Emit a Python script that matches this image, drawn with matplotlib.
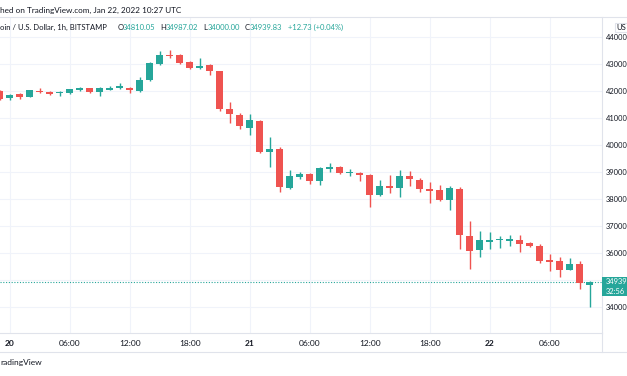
import matplotlib.pyplot as plt
from matplotlib.patches import Rectangle
from matplotlib.lines import Line2D

# hourly candles, Jan 19 23:00 -> Jan 22 10:00 (hour index from Jan 20 00:00)
hours = list(range(-1, 59))
opens = [42020, 41760, 41900, 41800, 42020, 41985, 41930, 41920, 42050, 42110,
         41990, 42060, 42110, 42133, 42022, 42418, 43011, 43356, 43344, 43074,
         42874, 42963, 42752, 41333, 41122, 40652, 40911, 39763, 39852, 38407,
         38837, 38937, 38689, 39119, 39207, 38963, 38985, 38900, 38159, 38493,
         38407, 38874, 38715, 38381, 38333, 37974, 38381, 36652, 36122, 36430,
         36478, 36456, 36493, 36370, 36281, 35752, 35715, 35381, 35604, 34810.05]
highs = [42030, 41890, 41920, 42050, 42110, 42010, 42000, 42080, 42170, 42120,
         42150, 42180, 42296, 42170, 42518, 43074, 43493, 43530, 43370, 43122,
         43222, 43000, 42760, 41593, 41207, 41148, 40937, 40319, 39926, 39085,
         39011, 38960, 39207, 39333, 39233, 39122, 39020, 38920, 38715, 38900,
         39085, 39059, 38778, 38630, 38530, 38493, 38444, 37185, 36837, 36800,
         36641, 36678, 36678, 36430, 36344, 35974, 35874, 35815, 35726, 34987.02]
lows = [41690, 41680, 41700, 41790, 41930, 41850, 41830, 41910, 42010, 41930,
        41830, 42040, 42074, 41950, 41985, 42393, 42985, 43222, 43011, 42826,
        42826, 42604, 41281, 40815, 40593, 40393, 39720, 39185, 38281, 38370,
        38741, 38556, 38530, 39022, 38937, 38863, 38689, 37704, 38140, 38244,
        38096, 38504, 38281, 37852, 37950, 37604, 36148, 35430, 35852, 36159,
        36207, 36281, 36048, 36244, 35630, 35356, 35133, 35370, 34667, 34000.00]
closes = [41700, 41870, 41800, 42030, 41960, 41890, 41945, 42075, 42130, 41990,
          42110, 42140, 42185, 42048, 42418, 43037, 43344, 43307, 43037, 42852,
          42948, 42752, 41333, 41148, 40726, 40937, 39741, 39852, 38444, 38874,
          38937, 38689, 39148, 39178, 38963, 39022, 38900, 38159, 38493, 38407,
          38863, 38741, 38370, 38296, 37974, 38407, 36678, 36096, 36493, 36493,
          36500, 36530, 36344, 36281, 35726, 35689, 35381, 35604, 34911, 34939.83]

last_price = 34939.83
tick_pos = [0, 6, 12, 18, 24, 30, 36, 42, 48, 54]
tick_labels = ['20', '06:00', '12:00', '18:00', '21', '06:00', '12:00', '18:00', '22', '06:00']
price_ticks = list(range(34000, 44001, 1000))

UP = '#26a69a'
DOWN = '#ef5350'
TXT = '#131722'
GRID = '#f0f3fa'
SEP = '#e0e3eb'

plt.rcParams['font.family'] = ['Lato', 'DejaVu Sans']

W, H = 627, 376
fig = plt.figure(figsize=(W / 100, H / 100), dpi=100)


def fx(x):
    return x / W


def fy(y):
    return 1 - y / H


top, bottom, right = 17, 333, 602
ax = fig.add_axes([0, fy(bottom), fx(right), (bottom - top) / H])

for h, o, hi, lo, c in zip(hours, opens, highs, lows, closes):
    col = UP if c >= o else DOWN
    ax.vlines(h, lo, hi, color=col, linewidth=1, zorder=2)
    body = max(abs(c - o), 45)
    ax.bar(h, body, bottom=min(o, c), width=0.7, color=col, linewidth=0, zorder=3)

ax.axhline(last_price, color=UP, linestyle=(0, (1, 1.5)), linewidth=0.8, zorder=1)

ax.set_xlim(-1, 59.2)
ax.set_ylim(44000 - (bottom - 37.3) * 1000 / 27, 44000 + (37.3 - top) * 1000 / 27)

ax.set_xticks(tick_pos)
ax.set_xticklabels(tick_labels)
for lab, t in zip(ax.get_xticklabels(), tick_labels):
    lab.set_fontweight('bold' if ':' not in t else 'normal')
ax.tick_params(axis='x', length=0, pad=5, labelsize=6, labelcolor=TXT)

ax.yaxis.tick_right()
ax.set_yticks(price_ticks)
ax.set_yticklabels(['' if p == 35000 else str(p) for p in price_ticks])
ax.tick_params(axis='y', length=0, pad=3, labelsize=5.4, labelcolor=TXT)

ax.grid(True, color=GRID, linewidth=0.8, zorder=0)
ax.set_axisbelow(True)
for s in ['left', 'top']:
    ax.spines[s].set_visible(False)
for s in ['bottom', 'right']:
    ax.spines[s].set_color(SEP)
    ax.spines[s].set_linewidth(0.8)

# pane separators
fig.add_artist(Line2D([0, 1], [fy(top), fy(top)], color=SEP, linewidth=0.8))
fig.add_artist(Line2D([0, 1], [fy(352), fy(352)], color=SEP, linewidth=0.8))
fig.add_artist(Line2D([fx(right), fx(right)], [fy(bottom), fy(352)], color=SEP, linewidth=0.8))

# header
fig.text(fx(0), fy(10), 'hed on TradingView.com, Jan 22, 2022 10:27 UTC',
         fontsize=5.9, color=TXT, va='center')
legend_parts = [
    (0, 'oin / U.S. Dollar, 1h, BITSTAMP', TXT),
    (117.5, 'O', TXT), (123, '34810.05', UP),
    (160, 'H', TXT), (165.5, '34987.02', UP),
    (203, 'L', TXT), (207.5, '34000.00', UP),
    (245, 'C', TXT), (250, '34939.83', UP),
    (287.5, '+12.73 (+0.04%)', UP),
]
for x, s, col in legend_parts:
    fig.text(fx(x), fy(27.3), s, fontsize=5.5, color=col, va='center')

# currency box
fig.add_artist(Rectangle((fx(615), fy(31.7)), fx(14), 9 / H, facecolor='white',
                         edgecolor=SEP, linewidth=0.8))
fig.text(fx(616.5), fy(27.2), 'US', fontsize=5.5, color=TXT, va='center')

# last price tag
fig.add_artist(Rectangle((fx(right), fy(296)), fx(W - right), 19 / H,
                         facecolor=UP, edgecolor='none'))
fig.text(fx(605.5), fy(282), '34939', fontsize=5.4, color='white', va='center')
fig.text(fx(605.5), fy(292), '32:56', fontsize=5.4, color='white', va='center')

# watermark
fig.text(fx(0), fy(362), 'radingView', fontsize=6, color=TXT, va='center')

fig.savefig('out.png', dpi=100, facecolor='white')
